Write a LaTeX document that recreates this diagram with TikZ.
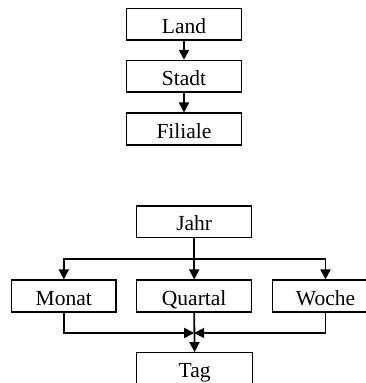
\documentclass[tikz,border=0pt]{standalone}
\usepackage{fontspec}
\setmainfont{Liberation Serif}
\usetikzlibrary{arrows.meta}
\begin{document}
\begin{tikzpicture}[x=1pt,y=1pt,
  box/.style={draw, line width=1.4pt, minimum height=31.7pt, inner sep=0pt,
    text height=18pt, text depth=0pt, font=\fontsize{21.5}{24}\selectfont},
  conn/.style={line width=1.8pt, -{Triangle[length=10pt,width=10pt]}},
  plainline/.style={line width=1.8pt}]
\useasboundingbox (0,0) rectangle (366,-383);
\clip (0,0) rectangle (366,-383);
% upper hierarchy
\node[box, minimum width=115pt] (land) at (184,-24.2) {Land};
\node[box, minimum width=115pt] (stadt) at (184,-76.3) {Stadt};
\node[box, minimum width=115pt] (filiale) at (184,-129) {Filiale};
\draw[conn] (land) -- (stadt);
\draw[conn] (stadt) -- (filiale);
% lower hierarchy
\node[box, minimum width=115pt] (jahr) at (194.2,-221.8) {Jahr};
\node[box, minimum width=104.3pt] (monat) at (63.8,-296) {Monat};
\node[box, minimum width=115pt] (quartal) at (194.2,-296) {Quartal};
\node[box, minimum width=106.4pt] (woche) at (325.5,-296) {Woche};
\node[box, minimum width=116pt] (tag) at (194.6,-368.6) {Tag};
\coordinate (split) at (194.2,-259.3);
\coordinate (merge) at (194.2,-333);
\draw[plainline] (jahr.south) -- (split);
\draw[conn] (split) -- (quartal.north);
\draw[conn] (split) -| (monat.north);
\draw[conn] (split) -| (woche.north);
\draw[conn] (monat.south) |- (merge);
\draw[conn] (woche.south) |- (merge);
\draw[conn] (quartal.south) -- (tag.north);
\end{tikzpicture}
\end{document}
